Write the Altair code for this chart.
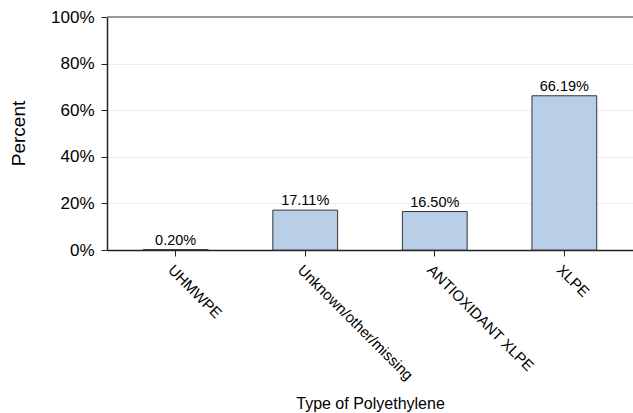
import altair as alt
import pandas as pd

categories = ["UHMWPE", "Unknown/other/missing", "ANTIOXIDANT XLPE", "XLPE"]
percents = [0.0020, 0.1711, 0.1650, 0.6619]

df = pd.DataFrame({"type": categories, "pct": percents})

FONT = "Liberation Sans"

x = alt.X(
    "type:N",
    sort=categories,
    scale=alt.Scale(paddingInner=0.5, paddingOuter=0.28),
    axis=alt.Axis(
        title="Type of Polyethylene",
        labelAngle=45,
        labelAlign="left",
        labelBaseline="top",
        labelFontSize=15,
        labelColor="black",
        labelFont=FONT,
        labelPadding=6,
        tickSize=6,
        tickColor="#222222",
        domainColor="#222222",
        domainWidth=1.5,
        titleFontSize=16,
        titleFont=FONT,
        titleFontWeight="normal",
        titleColor="black",
        titleY=153,
        titleBaseline="middle",
    ),
)

y = alt.Y(
    "pct:Q",
    scale=alt.Scale(domain=[0, 1], nice=False),
    axis=alt.Axis(
        title="Percent",
        format=".0%",
        values=[0, 0.2, 0.4, 0.6, 0.8, 1.0],
        labelFontSize=17,
        labelColor="black",
        labelFont=FONT,
        labelPadding=7,
        tickSize=6,
        tickColor="#222222",
        domainColor="#222222",
        domainWidth=1.5,
        grid=True,
        gridColor="#ececec",
        gridWidth=1,
        titleFontSize=19,
        titleFont=FONT,
        titleFontWeight="normal",
        titleColor="black",
        titleX=-89,
        titleY=116,
        titleAlign="center",
        titleBaseline="middle",
    ),
)

base = alt.Chart(df)

bars = base.mark_bar(fill="#b9cfe8", stroke="#333333", strokeWidth=1).encode(x=x, y=y)

labels = base.mark_text(
    dy=-5, baseline="alphabetic", fontSize=14.5, font=FONT, color="black"
).encode(x=alt.X("type:N", sort=categories), y="pct:Q", text=alt.Text("pct:Q", format=".2%"))

top_rule = alt.Chart(pd.DataFrame({"v": [1.0]})).mark_rule(color="#7a7a7a", strokeWidth=1.5).encode(
    y="v:Q"
)

chart = (
    alt.layer(bars, labels, top_rule)
    .properties(
        width=526,
        height=233,
        autosize=alt.AutoSizeParams(type="none"),
        padding={"left": 107, "top": 17, "right": 0, "bottom": 163},
        background="white",
    )
    .configure_view(stroke=None)
)

chart.save("out.html", embed_options={"renderer": "svg", "actions": False})
